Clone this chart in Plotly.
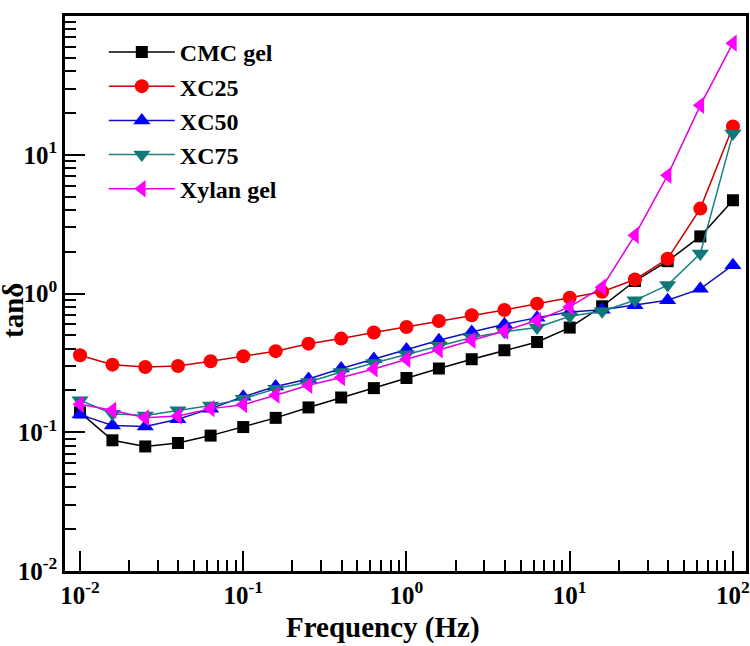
import plotly.graph_objects as go

# frequency sweep, 5 points per decade
freq = [0.01, 0.0158, 0.0251, 0.0398, 0.0631, 0.1, 0.158, 0.251, 0.398, 0.631,
        1.0, 1.58, 2.51, 3.98, 6.31, 10.0, 15.8, 25.1, 39.8, 63.1, 100.0]

cmc_gel = [0.139, 0.0875, 0.079, 0.0837, 0.0946, 0.109, 0.127, 0.151, 0.178, 0.208,
           0.246, 0.288, 0.336, 0.390, 0.447, 0.568, 0.809, 1.23, 1.71, 2.58, 4.70]
xc25 = [0.359, 0.307, 0.295, 0.300, 0.325, 0.353, 0.384, 0.435, 0.473, 0.523,
        0.574, 0.634, 0.697, 0.760, 0.845, 0.933, 1.03, 1.26, 1.78, 4.09, 16.0]
xc50 = [0.134, 0.112, 0.110, 0.124, 0.148, 0.180, 0.214, 0.242, 0.288, 0.337,
        0.394, 0.460, 0.528, 0.600, 0.670, 0.736, 0.765, 0.822, 0.893, 1.08, 1.60]
xc75 = [0.170, 0.136, 0.132, 0.144, 0.156, 0.174, 0.206, 0.230, 0.272, 0.316,
        0.365, 0.421, 0.481, 0.530, 0.568, 0.685, 0.744, 0.893, 1.15, 1.94, 14.2]
xylan_gel = [0.159, 0.144, 0.127, 0.131, 0.148, 0.158, 0.185, 0.218, 0.248, 0.286,
             0.336, 0.393, 0.460, 0.537, 0.641, 0.800, 1.11, 2.63, 7.11, 22.7, 63.7]

major_vals = [0.01, 0.1, 1, 10, 100]
major_text = ["10<sup>-2</sup>", "10<sup>-1</sup>", "10<sup>0</sup>",
              "10<sup>1</sup>", "10<sup>2</sup>"]
minor_vals = [m * d for d in [0.01, 0.1, 1, 10] for m in range(2, 10)]

series = [
    ("CMC gel", cmc_gel, "#000000", "#000000", "square", 12),
    ("XC25", xc25, "#ff0000", "#cc0000", "circle", 14),
    ("XC50", xc50, "#0000ff", "#1010c0", "triangle-up", 15),
    ("XC75", xc75, "#107878", "#1a8080", "triangle-down", 15),
    ("Xylan gel", xylan_gel, "#ff00ff", "#e000e0", "triangle-left", 15),
]

font_family = "Liberation Serif, Times New Roman, serif"
title_font = dict(family=font_family, size=29, color="black", weight="bold")

fig = go.Figure()
for name, vals, mcol, lcol, sym, size in series:
    fig.add_trace(go.Scatter(x=freq, y=vals, name=name, mode="lines+markers",
                             line=dict(color=lcol, width=1.5),
                             marker=dict(symbol=sym, size=size, color=mcol)))

axis_common = dict(
    type="log", showgrid=False, zeroline=False, automargin=False,
    showline=True, linecolor="black", linewidth=2.5, mirror=True,
    ticks="inside", ticklen=20, tickwidth=2, tickcolor="black",
    tickmode="array", tickvals=major_vals, ticktext=major_text,
    tickfont=dict(family=font_family, size=25, color="black", weight="bold"),
    minor=dict(ticks="inside", ticklen=11, tickwidth=2, tickcolor="black",
               tickmode="array", tickvals=minor_vals, showgrid=False),
)

fig.update_xaxes(**axis_common, range=[-2.092, 2.08])
fig.update_yaxes(**axis_common, range=[-2, 2])

# axis titles as annotations so they can sit where the original has them
fig.add_annotation(text="Frequency (Hz)", xref="paper", yref="paper",
                   x=0.467, y=-0.1027, xanchor="center", yanchor="middle",
                   showarrow=False, font=title_font)
fig.add_annotation(text="tanδ", xref="paper", yref="paper",
                   x=-52 / 681, y=0.4685, xanchor="center", yanchor="middle",
                   textangle=-90, showarrow=False, font=title_font)

fig.update_layout(
    width=750, height=646,
    margin=dict(l=65, r=4, t=16, b=75),
    plot_bgcolor="white", paper_bgcolor="white",
    legend=dict(x=0.057, y=0.975, xanchor="left", yanchor="top",
                bgcolor="rgba(0,0,0,0)", itemwidth=66,
                font=dict(family=font_family, size=24, color="black", weight="bold")),
)

# drop the default page margin so the 750x646 figure fills the window
fig.write_html("out.html", config={"displayModeBar": False},
               post_script="document.body.style.margin='0';"
                           "document.body.style.overflow='hidden';")
